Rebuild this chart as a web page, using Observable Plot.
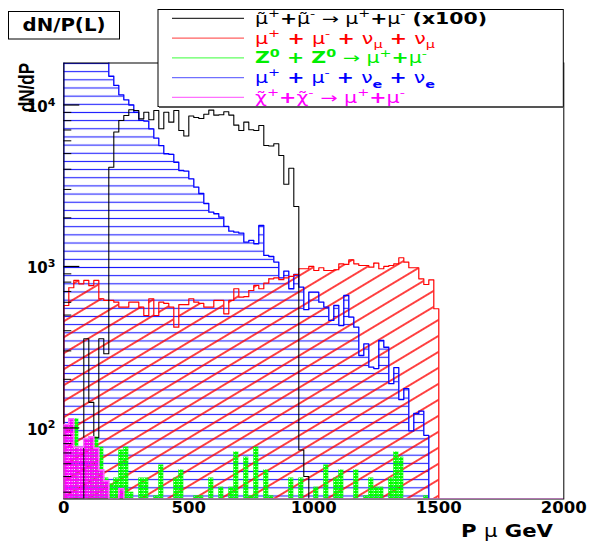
<!DOCTYPE html>
<html>
<head>
<meta charset="utf-8">
<script src="https://cdn.jsdelivr.net/npm/d3@7"></script>
<script src="https://cdn.jsdelivr.net/npm/@observablehq/plot@0.6"></script>
<style>
  html, body { margin: 0; padding: 0; background: #fff; }
  #chart svg { display: block; }
  text { white-space: pre; }
</style>
</head>
<body>
<div id="chart"></div>
<script>
// ---------------- data (entries per 20 GeV bin) ----------------
const binWidthGeV = 20;
const axisBins = 100;                       // 0 – 2000 GeV
const xTickValues = [0, 500, 1000, 1500, 2000];
const yMajorTicks = [100, 1000, 10000];
const yMinorTicks = [40, 50, 60, 70, 80, 90, 200, 300, 400, 500, 600, 700, 800, 900,
                     2000, 3000, 4000, 5000, 6000, 7000, 8000, 9000];
const yDomain = [36.3, 18200];

// smuon pair -> mu+ mu-  (x100), black outline
const smuonX100 = [0, 0, 0, 0, 357, 144, 87, 357, 288, 4120, 6800, 8020, 8610, 9340, 9250, 8210,
  9020, 8100, 9250, 7120, 9020, 7830, 9250, 6950, 6430, 8550, 8370, 8250, 8760, 9300, 8650, 8710,
  9090, 8660, 7500, 6950, 7830, 7030, 6950, 7470, 5610, 5570, 5750, 4870, 3230, 4060, 2350, 73, 50];

// mu+ mu- nu_mu nu_mu, red diagonal hatch
const mumuNuMuNuMu = [573, 738, 819, 781, 819, 760, 819, 631, 616, 616, 601, 560, 560, 601, 601, 560,
  497, 631, 497, 601, 590, 560, 421, 580, 580, 631, 601, 590, 560, 560, 616, 616, 509, 616, 728, 645,
  650, 710, 763, 728, 788, 839, 851, 828, 851, 867, 892, 968, 968, 1000, 944, 982, 944, 944, 954, 1039,
  1029, 1100, 1039, 1014, 1014, 990, 1048, 968, 1000, 1014, 1039, 1132, 1063, 982, 982, 839, 773, 826, 547];

// Z0 Z0 -> mu+ mu-, green dotted fill
const zzToMuMu = [0, 0, 114, 0, 0, 88, 88, 76, 49, 45, 49, 73, 76, 40, 0, 49, 49, 0, 38, 59, 0, 0, 49,
  55, 0, 0, 38, 38, 0, 49, 0, 43, 0, 43, 71, 0, 66, 38, 76, 0, 55, 38, 0, 0, 0, 49, 0, 49, 0, 0, 43, 0,
  59, 0, 49, 55, 0, 0, 55, 0, 38, 49, 43, 43, 0, 49, 71, 66, 0, 0, 0, 0, 38];

// mu+ mu- nu_e nu_e, blue horizontal hatch
const mumuNuENuE = [26000, 25000, 24000, 23000, 22000, 21000, 20000, 19500, 18800, 15070, 13210, 11560,
  10770, 10000, 9020, 8020, 7950, 7120, 6230, 5610, 4990, 4950, 4420, 3930, 3900, 3490, 3100, 2830, 2455,
  2170, 2120, 2020, 1770, 1655, 1630, 1607, 1413, 1449, 1383, 1794, 1170, 1153, 1064, 851, 935, 728, 892,
  744, 540, 693, 693, 601, 560, 463, 573, 431, 661, 485, 421, 281, 332, 238, 233, 348, 316, 188, 236,
  150, 175, 96, 123, 127, 90];

// chargino pair -> mu+ mu-, magenta dotted fill
const charginoToMuMu = [105, 114, 76, 76, 86, 88, 75, 55, 47, 0, 0, 42];

// legend rows: [text, style]
const legendRows = [
  [["μ̃", "n"], ["+", "supn"], ["+", "b"], ["μ̃", "n"], ["-", "supn"], [" → ", "n"], ["μ", "n"], ["+", "supn"], ["+", "b"], ["μ", "n"], ["-", "supn"], [" (x100)", "b"]],
  [["μ", "n"], ["+", "supn"], [" + ", "b"], ["μ", "n"], ["-", "supn"], [" + ", "b"], ["ν", "n"], ["μ", "subn"], [" + ", "b"], ["ν", "n"], ["μ", "subn"]],
  [["Z", "b"], ["0", "supb"], [" + ", "b"], ["Z", "b"], ["0", "supb"], [" → ", "n"], ["μ", "n"], ["+", "supn"], ["+", "b"], ["μ", "n"], ["-", "supn"]],
  [["μ", "n"], ["+", "supn"], [" + ", "b"], ["μ", "n"], ["-", "supn"], [" + ", "b"], ["ν", "n"], ["e", "subb"], [" + ", "b"], ["ν", "n"], ["e", "subb"]],
  [["χ̃", "n"], ["+", "supn"], ["+", "b"], ["χ̃", "n"], ["-", "supn"], [" → ", "n"], ["μ", "n"], ["+", "supn"], ["+", "b"], ["μ", "n"], ["-", "supn"]]
];
const legendTextColors = ["#000000", "#ff0000", "#00ee00", "#0000ff", "#ff00ff"];
const legendLineColors = ["#333333", "#ff6060", "#60ff60", "#7070ff", "#ff70ff"];
const legendTextWidths = [232, 180, 172, 180, 150];

// ---------------- helpers ----------------
const yFloor = yDomain[0];
function outlinePoints(values, nBins = values.length) {
  const pts = [{x: 0, y: yFloor}];
  for (let i = 0; i < nBins; i++) {
    const v = values[i] > 0 ? values[i] : yFloor;
    pts.push({x: i * binWidthGeV, y: v}, {x: (i + 1) * binWidthGeV, y: v});
  }
  pts.push({x: nBins * binWidthGeV, y: yFloor});
  return pts;
}
function barsOf(values) {
  return values.map((v, i) => ({x1: i * binWidthGeV, x2: (i + 1) * binWidthGeV, v})).filter(d => d.v > 0);
}

const bluePts = outlinePoints(mumuNuENuE);
const redPts = outlinePoints(mumuNuMuNuMu);
const blackPts = outlinePoints(smuonX100);
const magentaPts = outlinePoints(charginoToMuMu, axisBins);

const plot = Plot.plot({
  width: 590,
  height: 542,
  marginLeft: 63.3,
  marginRight: 26.7,
  marginTop: 62.5,
  marginBottom: 43.5,
  x: {domain: [0, 2000], axis: null},
  y: {type: "log", domain: yDomain, axis: null},
  style: {background: "white", fontFamily: "'DejaVu Sans', sans-serif", color: "black"},
  marks: [
    Plot.area(bluePts, {x1: "x", y1: yFloor, y2: "y", fill: "url(#hatchBlue)", clip: true}),
    Plot.area(redPts, {x1: "x", y1: yFloor, y2: "y", fill: "url(#hatchRed)", clip: true}),
    Plot.rect(barsOf(zzToMuMu), {x1: "x1", x2: "x2", y1: yFloor, y2: "v", fill: "url(#dotGreen)", clip: true}),
    Plot.rect(barsOf(charginoToMuMu), {x1: "x1", x2: "x2", y1: yFloor, y2: "v", fill: "url(#dotMagenta)", clip: true}),
    Plot.line(bluePts, {x: "x", y: "y", stroke: "#0000ff", strokeWidth: 1.3, clip: true}),
    Plot.line(redPts, {x: "x", y: "y", stroke: "#ff0000", strokeWidth: 1.2, clip: true}),
    Plot.line(blackPts, {x: "x", y: "y", stroke: "#000000", strokeWidth: 1.1, clip: true}),
    Plot.frame({stroke: "#000"}),
    Plot.line(magentaPts, {x: "x", y: "y", stroke: "#ff66ff", strokeWidth: 1.6, clip: true}),
    Plot.ruleY(yMajorTicks, {x1: 0, x2: 64, stroke: "#000", strokeWidth: 1.2}),
    Plot.ruleY(yMinorTicks, {x1: 0, x2: 32, stroke: "#000", strokeWidth: 1}),
    Plot.text(yMajorTicks, {y: d => d, frameAnchor: "left", text: () => "10", textAnchor: "end",
      dx: -16, dy: 2, fontSize: 15, fontWeight: "bold"}),
    Plot.text(yMajorTicks, {y: d => d, frameAnchor: "left", text: d => String(Math.round(Math.log10(d))),
      textAnchor: "start", dx: -16, dy: -3, fontSize: 11, fontWeight: "bold"}),
    Plot.text(xTickValues, {x: d => d, frameAnchor: "bottom", text: d => String(d), dy: 14,
      fontSize: 16.5, fontWeight: "bold"})
  ]
});

document.getElementById("chart").appendChild(plot);

// ---------------- patterns, legend, titles ----------------
const svg = d3.select(plot);
const defs = svg.insert("defs", ":first-child");

const pb = defs.append("pattern").attr("id", "hatchBlue").attr("patternUnits", "userSpaceOnUse")
  .attr("x", 0).attr("y", 63.5 - 4.08).attr("width", 20).attr("height", 8.16);
pb.append("line").attr("x1", 0).attr("x2", 20).attr("y1", 4.08).attr("y2", 4.08)
  .attr("stroke", "#1a1aff").attr("stroke-width", 1.1);

const hatchGap = 13.7;
const pr = defs.append("pattern").attr("id", "hatchRed").attr("patternUnits", "userSpaceOnUse")
  .attr("width", 40).attr("height", hatchGap).attr("patternTransform", "rotate(-31)");
pr.append("line").attr("x1", 0).attr("x2", 40).attr("y1", hatchGap / 2).attr("y2", hatchGap / 2)
  .attr("stroke", "#ff0000").attr("stroke-width", 1.4);

function dotPattern(id, color) {
  const p = defs.append("pattern").attr("id", id).attr("patternUnits", "userSpaceOnUse")
    .attr("x", 63.3).attr("width", 2.5).attr("height", 3);
  p.append("path").attr("d", "M0,0H2.5V3H0Z M0.8,0.9H1.8V1.9H0.8Z")
    .attr("fill-rule", "evenodd").attr("fill", color);
}
dotPattern("dotGreen", "#00ff00");
dotPattern("dotMagenta", "#ff00ff");

const font = "'DejaVu Sans', sans-serif";

// title box
svg.append("rect").attr("x", 8.5).attr("y", 11.5).attr("width", 111).attr("height", 27.5)
  .attr("fill", "white").attr("stroke", "black").attr("stroke-width", 1);
svg.append("text").attr("x", 64).attr("y", 31).attr("text-anchor", "middle")
  .attr("font-family", font).attr("font-weight", "bold").attr("font-size", 18.5)
  .attr("textLength", 83).attr("lengthAdjust", "spacingAndGlyphs").text("dN/P(L)");

// y axis title
svg.append("text").attr("transform", "translate(34,63) scale(1.3,1) rotate(-90)")
  .attr("text-anchor", "end").attr("font-family", "'Liberation Sans', Arial, sans-serif")
  .attr("font-weight", "bold").attr("font-size", 17).text("dN/dP");

// x axis title
const xt = svg.append("text").attr("x", 553).attr("y", 537).attr("text-anchor", "end")
  .attr("font-family", font).attr("font-size", 17).attr("textLength", 92).attr("lengthAdjust", "spacingAndGlyphs");
xt.append("tspan").attr("font-weight", "bold").text("P ");
xt.append("tspan").attr("font-weight", "normal").text("μ");
xt.append("tspan").attr("font-weight", "bold").text(" GeV");

// legend
const lg = svg.append("g");
lg.append("rect").attr("x", 158).attr("y", 9.5).attr("width", 405.3).attr("height", 97)
  .attr("fill", "white").attr("stroke", "black").attr("stroke-width", 1);
lg.append("line").attr("x1", 159).attr("x2", 563.3).attr("y1", 107).attr("y2", 107)
  .attr("stroke", "#555").attr("stroke-width", 2);

const fs = 15;
legendRows.forEach((segs, i) => {
  const yRow = 18.3 + 19.75 * i;
  lg.append("line").attr("x1", 172).attr("x2", 244).attr("y1", yRow).attr("y2", yRow)
    .attr("stroke", legendLineColors[i]).attr("stroke-width", 1.3);
  const t = lg.append("text").attr("x", 255).attr("y", yRow + 5.5).attr("fill", legendTextColors[i])
    .attr("text-anchor", "start").attr("font-family", font).attr("font-size", fs);
  let cur = 0;
  for (const [str, kind] of segs) {
    let off = 0, size = fs, weight = "bold";
    if (kind === "n") weight = "normal";
    if (kind.startsWith("sup")) { off = -0.45 * fs; size = 0.7 * fs; }
    if (kind.startsWith("sub")) { off = 0.3 * fs; size = 0.7 * fs; }
    if (kind === "supn" || kind === "subn") weight = "normal";
    t.append("tspan").attr("dy", off - cur).attr("font-size", size).attr("font-weight", weight).text(str);
    cur = off;
  }
  t.attr("textLength", legendTextWidths[i]).attr("lengthAdjust", "spacingAndGlyphs");
});
</script>
</body>
</html>
